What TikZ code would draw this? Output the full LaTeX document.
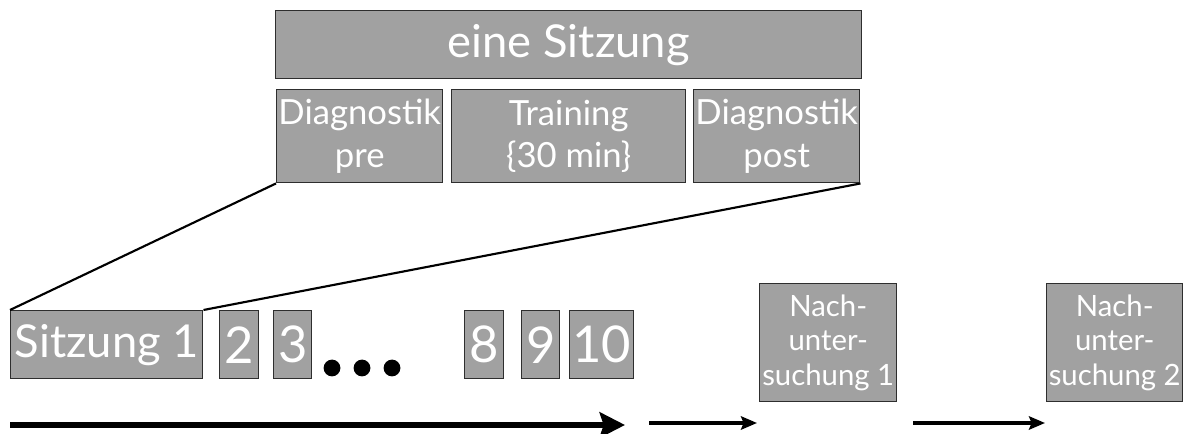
\documentclass[tikz,border=0pt]{standalone}
\usepackage{fontspec}
\setmainfont{Lato}
\usetikzlibrary{arrows.meta}
\definecolor{boxfill}{HTML}{A1A1A1}
\definecolor{boxline}{HTML}{2E2E2E}
\begin{document}
\begin{tikzpicture}[x=0.75pt,y=-0.75pt,
  box/.style={draw=boxline, line width=1.1pt, fill=boxfill, text=white,
    inner sep=0pt, align=center, anchor=north west},
  wh/.style 2 args={minimum width=#1*0.75pt, minimum height=#2*0.75pt},
  huge/.style={font=\fontsize{34}{38}\selectfont},
  mid/.style={font=\fontsize{26}{32}\selectfont},
  digit/.style={font=\fontsize{38}{40}\selectfont},
  small/.style={font=\fontsize{22}{26}\selectfont},
  link/.style={line width=1.6pt, black},
  bigarrow/.style={line width=5pt, -{Stealth[length=19pt, width=19pt, inset=3pt]}},
  thinarrow/.style={line width=2.4pt, -{Stealth[length=12pt, width=10pt, inset=2pt]}}]
\useasboundingbox (0,0) rectangle (1193,434);

% one session and its three parts
\node[box, huge, wh={586}{68}] (session) at (275,10) {eine Sitzung};
\node[box, mid, wh={166}{93}] (pre) at (276,89) {Diagnostik\\pre};
\node[box, mid, wh={234}{93}] (training) at (451,89) {Training\\\{30 min\}};
\node[box, mid, wh={166}{93}] (post) at (693,89) {Diagnostik\\post};

% the series of ten sessions
\node[box, huge, wh={192}{68}] (s1) at (10,310) {Sitzung 1};
\node[box, digit, wh={39}{68}] (s2) at (219,310) {2};
\node[box, digit, wh={38}{68}] (s3) at (273,310) {3};
\node[box, digit, wh={39}{68}] (s8) at (464,310) {8};
\node[box, digit, wh={38}{68}] (s9) at (521,310) {9};
\node[box, digit, wh={64}{68}] (s10) at (569,310) {10};

\foreach \dx in {332,362,392}
  \fill (\dx,368) circle[radius=6.3pt];

% follow-up examinations
\node[box, small, wh={137}{118}] (n1) at (759,283) {Nach-\\unter-\\suchung 1};
\node[box, small, wh={136}{118}] (n2) at (1046,283) {Nach-\\unter-\\suchung 2};

% zoom lines from the session parts down to the first session
\draw[link] (pre.south west) -- (s1.north west);
\draw[link] (post.south east) -- (s1.north east);

% time axis
\coordinate (a0) at (10,425);
\coordinate (a1) at (625,425);
\coordinate (b0) at (649,423);
\coordinate (b1) at (757,423);
\coordinate (c0) at (913,423);
\coordinate (c1) at (1045,423);
\draw[bigarrow] (a0) -- (a1);
\draw[thinarrow] (b0) -- (b1);
\draw[thinarrow] (c0) -- (c1);
\end{tikzpicture}
\end{document}
